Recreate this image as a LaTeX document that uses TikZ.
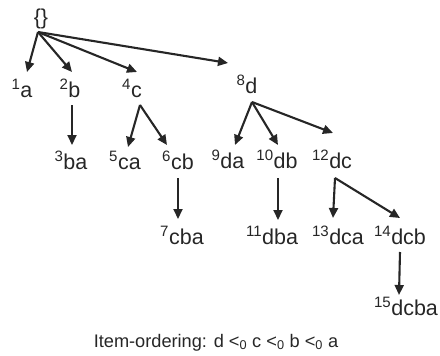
\documentclass[tikz,border=0pt]{standalone}
\usepackage{fontspec}
\setmainfont{Liberation Sans}
\usetikzlibrary{arrows.meta,calc}
\definecolor{ink}{HTML}{262626}
\newcommand\lab[2]{\textsuperscript{#1}#2}
\tikzset{
  lbl/.style={anchor=base,inner sep=0pt,text=ink,font=\fontsize{21.5}{25}\selectfont},
  captext/.style={anchor=base,inner sep=0pt,text=ink,font=\fontsize{18.2}{22}\selectfont},
  arr/.style={draw=ink,line width=2.1pt,-{Triangle[length=10pt,width=9pt]}}
}
\begin{document}
\begin{tikzpicture}[x=1pt,y=-1pt]
\useasboundingbox (0,0) rectangle (440,356);
\node[lbl] (r) at (41,24) {\{\}};
\node[lbl] (n1) at (22,97) {\lab{1}{a}};
\node[lbl] (n2) at (70,97) {\lab{2}{b}};
\node[lbl] (n4) at (132,97) {\lab{4}{c}};
\node[lbl] (n8) at (247,93) {\lab{8}{d}};
\node[lbl] (n3) at (71,169) {\lab{3}{ba}};
\node[lbl] (n5) at (125,169) {\lab{5}{ca}};
\node[lbl] (n6) at (178,169) {\lab{6}{cb}};
\node[lbl] (n7) at (182,244) {\lab{7}{cba}};
\node[lbl] (n9) at (228,168) {\lab{9}{da}};
\node[lbl] (n10) at (277,168) {\lab{10}{db}};
\node[lbl] (n12) at (332,168) {\lab{12}{dc}};
\node[lbl] (n11) at (272,244) {\lab{11}{dba}};
\node[lbl] (n13) at (338,244) {\lab{13}{dca}};
\node[lbl] (n14) at (400,244) {\lab{14}{dcb}};
\node[lbl] (n15) at (406,315) {\lab{15}{dcba}};
\node[captext] (capt) at (216,347) {Item-ordering: d <\textsubscript{0} c <\textsubscript{0} b <\textsubscript{0} a};
% root
\draw[arr] ($(r.base)+(-3,8)$) -- ($(n1.base)+(5,-25)$);
\draw[arr] ($(r.base)+(-3,8)$) -- ($(n2.base)+(2,-25)$);
\draw[arr] ($(r.base)+(-3,8)$) -- ($(n4.base)+(5,-25)$);
\draw[arr] ($(r.base)+(-3,8)$) -- ($(n8.base)+(-19,-30)$);
% b
\draw[arr] ($(n2.base)+(2,8)$) -- ($(n3.base)+(1,-24)$);
% c
\draw[arr] ($(n4.base)+(8,8)$) -- ($(n5.base)+(3,-22)$);
\draw[arr] ($(n4.base)+(8,8)$) -- ($(n6.base)+(-11,-24)$);
\draw[arr] ($(n6.base)+(0,9)$) -- ($(n7.base)+(-4,-25)$);
% d
\draw[arr] ($(n8.base)+(5,9)$) -- ($(n9.base)+(7,-23)$);
\draw[arr] ($(n8.base)+(5,9)$) -- ($(n10.base)+(1,-23)$);
\draw[arr] ($(n8.base)+(5,9)$) -- ($(n12.base)+(1,-35)$);
\draw[arr] ($(n10.base)+(1,10)$) -- ($(n11.base)+(6,-24)$);
\draw[arr] ($(n12.base)+(3,10)$) -- ($(n13.base)+(-5,-26)$);
\draw[arr] ($(n12.base)+(3,10)$) -- ($(n14.base)+(0,-26)$);
\draw[arr] ($(n14.base)+(0,8)$) -- ($(n15.base)+(-7,-20)$);
\end{tikzpicture}
\end{document}
